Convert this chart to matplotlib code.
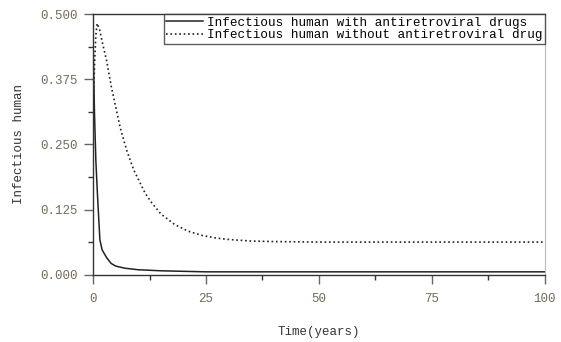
import matplotlib
matplotlib.use("Agg")
import matplotlib.pyplot as plt
from matplotlib.ticker import MultipleLocator

# time (years) and infectious human fraction
t_with = [0, 0.3, 0.6, 1.0, 1.5, 2.0, 3.0, 4.0, 5.0, 7.0, 10, 15, 20, 25, 30, 40, 50, 60, 70, 80, 90, 100]
i_with = [0.44, 0.31, 0.22, 0.147, 0.067, 0.048, 0.033, 0.022, 0.017, 0.013, 0.010, 0.008, 0.007, 0.006, 0.006, 0.006, 0.006, 0.006, 0.006, 0.006, 0.006, 0.006]

t_without = [0, 0.3, 0.6, 0.9, 1.5, 2, 3, 4, 5, 6, 7.5, 9, 11.5, 13, 15, 18, 21, 24, 27, 30, 35, 40, 50, 60, 70, 80, 90, 100]
i_without = [0.30, 0.40, 0.46, 0.482, 0.468, 0.447, 0.41, 0.362, 0.322, 0.282, 0.237, 0.201, 0.157, 0.138, 0.117, 0.097, 0.084, 0.076, 0.071, 0.068, 0.065, 0.064, 0.063, 0.063, 0.063, 0.063, 0.063, 0.063]

label_with = "Infectious human with antiretroviral drugs"
label_without = "Infectious human without antiretroviral drug"

plt.rcParams["font.family"] = ["Liberation Mono", "DejaVu Sans Mono"]

fig = plt.figure(figsize=(5.61, 3.42), dpi=100)
ax = fig.add_axes([0.166, 0.196, 0.805, 0.763])

ax.plot(t_with, i_with, "-", color="#222222", linewidth=1.1, label=label_with)
ax.plot(t_without, i_without, ":", color="#222222", linewidth=1.2, label=label_without)

ax.set_xlim(0, 100)
ax.set_ylim(0, 0.5)
ax.xaxis.set_major_locator(MultipleLocator(25))
ax.xaxis.set_minor_locator(MultipleLocator(12.5))
ax.yaxis.set_major_locator(MultipleLocator(0.125))
ax.yaxis.set_minor_locator(MultipleLocator(0.0625))
ax.yaxis.set_major_formatter(plt.FuncFormatter(lambda v, _: f"{v:.3f}"))

ax.tick_params(axis="both", which="major", direction="out", length=6.5,
               width=1, color="#666666", labelsize=9, labelcolor="#756b58")
ax.tick_params(axis="both", which="minor", direction="out", length=3.5,
               width=1, color="#333333")
ax.tick_params(axis="x", which="major", pad=6.5)
ax.tick_params(axis="y", which="major", pad=4.5)

for side in ["left", "top", "bottom"]:
    ax.spines[side].set_color("#333333")
    ax.spines[side].set_linewidth(1.0)
ax.spines["right"].set_color("#bbbbbb")

ax.set_xlabel("Time(years)", fontsize=9, color="#333333", labelpad=15)
ax.set_ylabel("Infectious human", fontsize=9, color="#333333", labelpad=11)

leg = ax.legend(loc="upper right", bbox_to_anchor=(1.0, 1.0), fontsize=9.1,
                frameon=True, fancybox=False, borderaxespad=0,
                handlelength=2.9, handletextpad=0.3, borderpad=0.2,
                labelspacing=0.05)
leg.get_frame().set_edgecolor("#333333")
leg.get_frame().set_linewidth(1.0)

fig.savefig("out.png", dpi=100)
